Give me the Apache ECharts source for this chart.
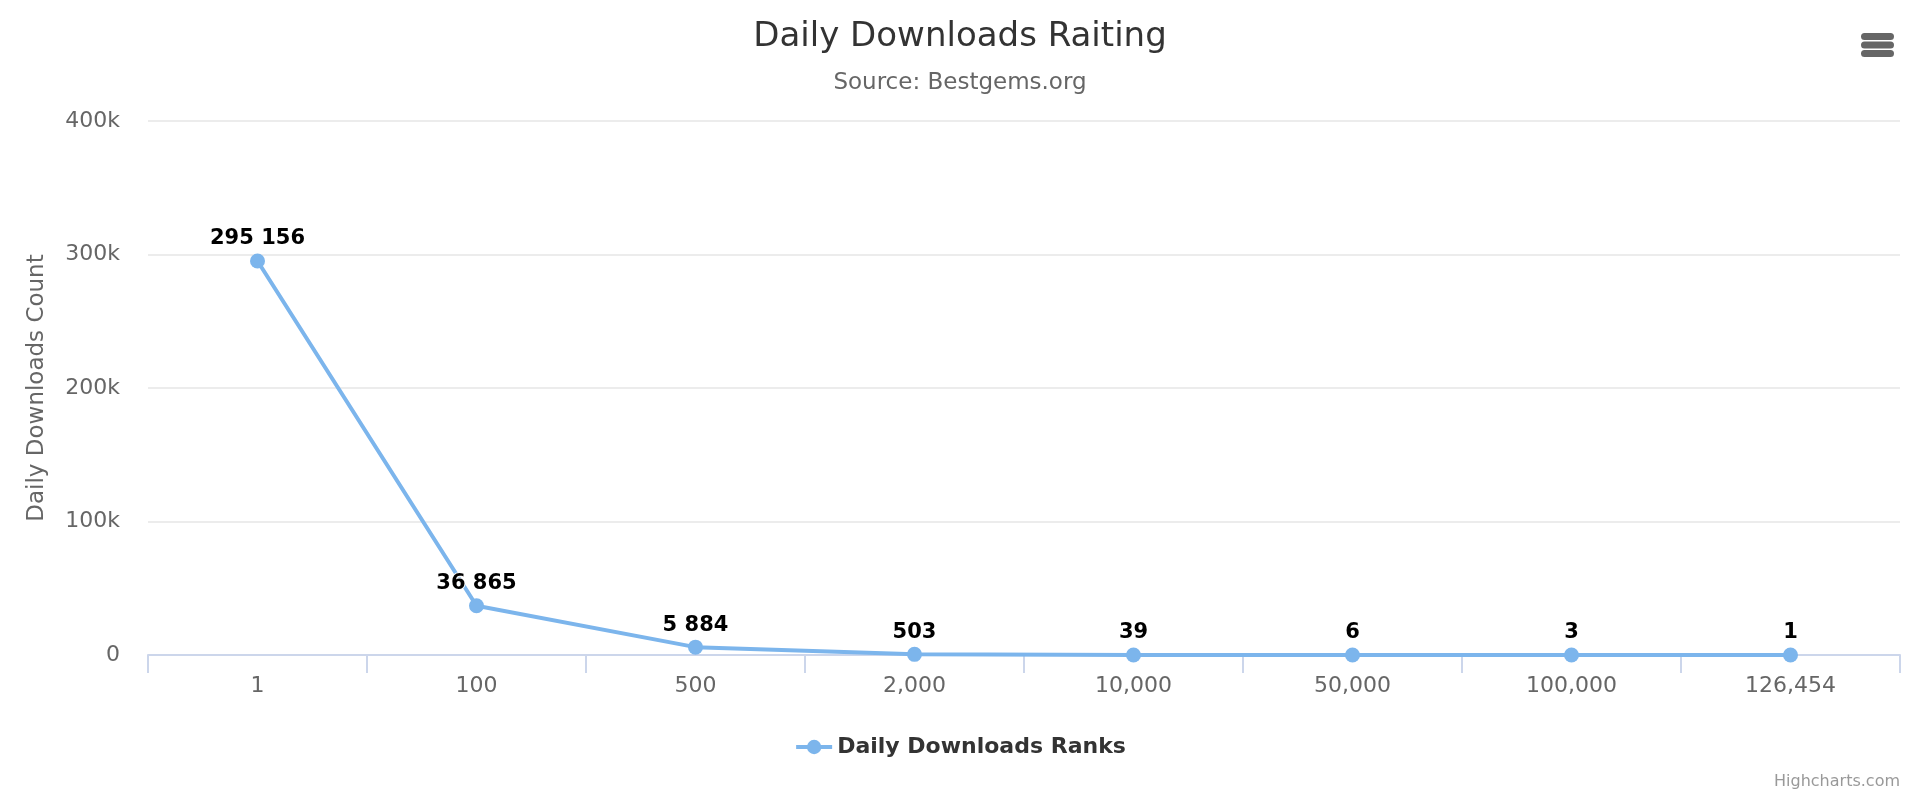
<!DOCTYPE html>
<html>
<head>
<meta charset="utf-8">
<title>Daily Downloads Raiting</title>
<script src="https://cdn.jsdelivr.net/npm/echarts@6/dist/echarts.min.js"></script>
<style>
  html, body { margin: 0; padding: 0; background: #fff; }
  #chart { width: 1920px; height: 793px; }
</style>
</head>
<body>
<div id="chart"></div>
<script>
// 排名（x 轴类目）
const ranks = ['1', '100', '500', '2,000', '10,000', '50,000', '100,000', '126,454'];
// 每日下载量
const downloads = [295156, 36865, 5884, 503, 39, 6, 3, 1];
// y 轴刻度
const yMin = 0;
const yMax = 400000;
const yStep = 100000;

const FONT = '"DejaVu Sans", "Lucida Grande", Arial, sans-serif';

// 千位用空格分隔，例如 295 156
const spaced = v => String(v).replace(/\B(?=(\d{3})+(?!\d))/g, ' ');

const chart = echarts.init(document.getElementById('chart'));

const option = {
  animation: false,
  textStyle: { fontFamily: FONT },
  title: [
    {
      text: 'Daily Downloads Raiting',
      left: 'center',
      top: 20,
      padding: 0,
      textStyle: { fontSize: 34, fontWeight: 'normal', color: '#333333', fontFamily: FONT }
    },
    {
      text: 'Source: Bestgems.org',
      left: 'center',
      top: 72,
      padding: 0,
      textStyle: { fontSize: 23, fontWeight: 'normal', color: '#666666', fontFamily: FONT }
    },
    {
      text: 'Highcharts.com',
      right: 20,
      top: 774,
      padding: 0,
      textStyle: { fontSize: 16, fontWeight: 'normal', color: '#999999', fontFamily: FONT }
    }
  ],
  // 右上角菜单图标
  toolbox: {
    right: 26,
    top: 33,
    padding: 0,
    itemSize: 33,
    iconStyle: { color: '#666666', borderWidth: 0 },
    emphasis: { iconStyle: { color: '#666666', borderWidth: 0, textFill: 'transparent' } },
    feature: {
      myMenu: {
        show: true,
        title: '',
        icon: 'path://M3.5,0H29.5A3.5,3.5 0 0 1 29.5,7H3.5A3.5,3.5 0 0 1 3.5,0Z M3.5,8.5H29.5A3.5,3.5 0 0 1 29.5,15.5H3.5A3.5,3.5 0 0 1 3.5,8.5Z M3.5,17H29.5A3.5,3.5 0 0 1 29.5,24H3.5A3.5,3.5 0 0 1 3.5,17Z',
        onclick: function () {}
      }
    }
  },
  legend: {
    left: 'center',
    top: 736,
    padding: 0,
    itemWidth: 36,
    itemHeight: 18,
    itemStyle: { color: '#7cb5ec' },
    lineStyle: { color: '#7cb5ec', width: 4 },
    textStyle: { fontSize: 22, fontWeight: 'bold', color: '#333333', fontFamily: FONT },
    data: ['Daily Downloads Ranks']
  },
  grid: {
    left: 148,
    right: 20,
    top: 121,
    bottom: 138,
    containLabel: false
  },
  xAxis: {
    type: 'category',
    data: ranks,
    boundaryGap: true,
    axisLine: { show: true, lineStyle: { color: '#ccd6eb', width: 2 } },
    axisTick: { show: true, length: 18, lineStyle: { color: '#ccd6eb', width: 2 } },
    axisLabel: { interval: 0, margin: 20, fontSize: 22, color: '#666666', fontFamily: FONT },
    splitLine: { show: false }
  },
  yAxis: {
    type: 'value',
    min: yMin,
    max: yMax,
    interval: yStep,
    name: 'Daily Downloads Count',
    nameLocation: 'middle',
    nameRotate: 90,
    nameGap: 99,
    nameTextStyle: { fontSize: 23, color: '#666666', fontFamily: FONT },
    axisLine: { show: false },
    axisTick: { show: false },
    axisLabel: {
      margin: 28,
      fontSize: 22,
      color: '#666666',
      fontFamily: FONT,
      formatter: v => (v === 0 ? '0' : (v / 1000) + 'k')
    },
    splitLine: { show: true, lineStyle: { color: '#e6e6e6', width: 1.5 } }
  },
  series: [
    {
      name: 'Daily Downloads Ranks',
      type: 'line',
      data: downloads,
      symbol: 'circle',
      symbolSize: 15,
      lineStyle: { color: '#7cb5ec', width: 4 },
      itemStyle: { color: '#7cb5ec' },
      label: {
        show: true,
        position: 'top',
        distance: 4,
        fontSize: 21,
        fontWeight: 'bold',
        color: '#000000',
        fontFamily: FONT,
        textBorderColor: '#ffffff',
        textBorderWidth: 2,
        formatter: p => spaced(p.value)
      }
    }
  ]
};

chart.setOption(option);
</script>
</body>
</html>
